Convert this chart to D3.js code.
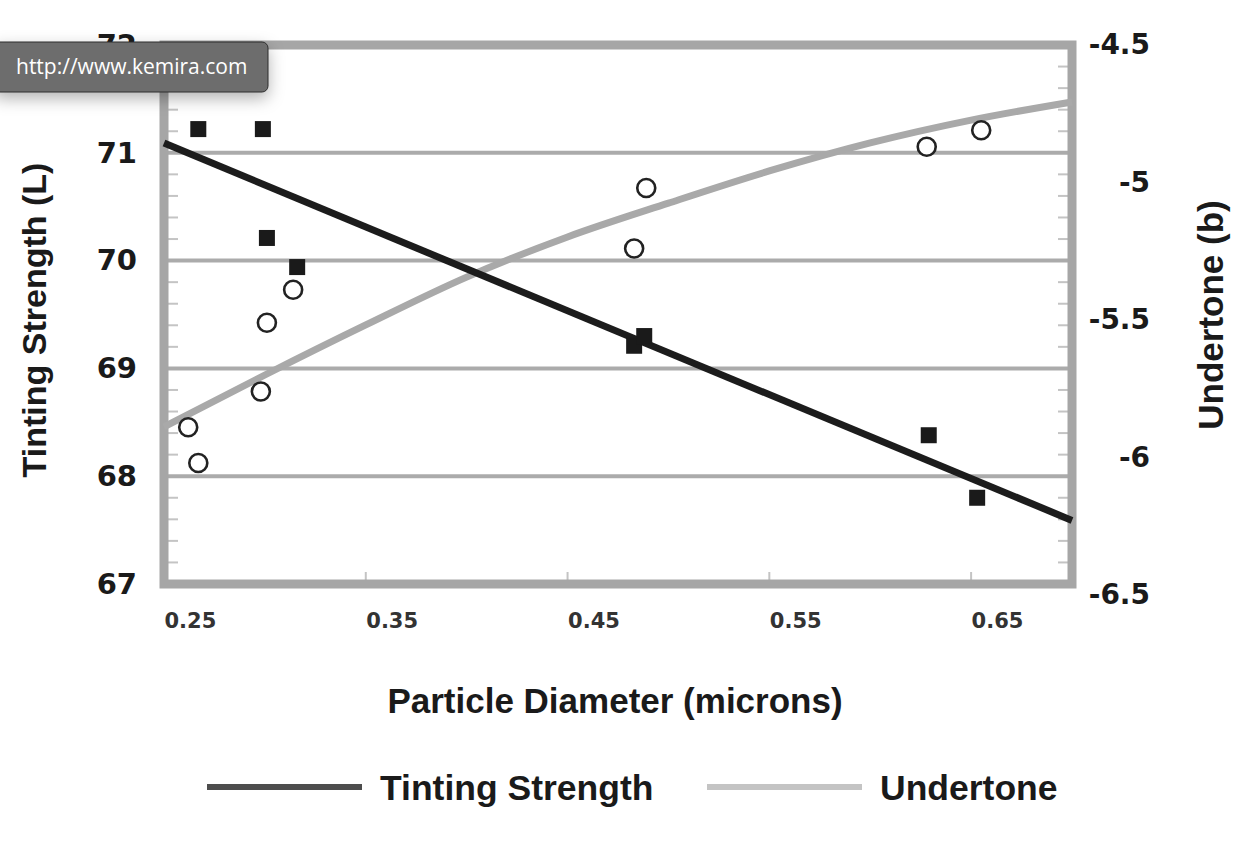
<!DOCTYPE html>
<html>
<head>
<meta charset="utf-8">
<script src="https://cdn.jsdelivr.net/npm/d3@7"></script>
<style>
  body { margin: 0; background: #fff; }
  svg { display: block; }
</style>
</head>
<body>
<div id="chart"></div>
<script>
// measured points (black squares = tinting strength, open circles = undertone)
const tintX = [0.267, 0.299, 0.301, 0.316, 0.483, 0.488, 0.629, 0.653];
const tintY = [71.22, 71.22, 70.21, 69.94, 69.21, 69.30, 68.38, 67.80];
const underX = [0.262, 0.267, 0.298, 0.301, 0.314, 0.483, 0.489, 0.628, 0.655];
const underY = [-5.89, -6.02, -5.76, -5.51, -5.39, -5.24, -5.02, -4.87, -4.81];

// fitted trend lines
const tintFitX = [0.25, 0.70];
const tintFitY = [71.09, 67.59];
const underFitX = [0.25, 0.30, 0.35, 0.40, 0.45, 0.50, 0.55, 0.60, 0.65, 0.70];
const underFitY = [-5.889, -5.700, -5.518, -5.344, -5.198, -5.075, -4.958, -4.856, -4.773, -4.707];

// ticks
const xTicks = [0.25, 0.35, 0.45, 0.55, 0.65];
const xMinor = [0.35, 0.45, 0.55, 0.65];
const leftTicks = [67, 68, 69, 70, 71, 72];
const gridTicks = [68, 69, 70, 71];
const rightTicks = [-6.5, -6, -5.5, -5, -4.5];

const W = 1258, H = 848;
const plotL = 164, plotR = 1072, plotT = 45, plotB = 584;
const numFont = "'DejaVu Sans', sans-serif";
const titleFont = "'Liberation Sans', Arial, sans-serif";

const svg = d3.select("#chart").append("svg")
    .attr("width", W)
    .attr("height", H);

const x = d3.scaleLinear().domain([0.25, 0.70]).range([plotL, plotR]);
const yL = d3.scaleLinear().domain([67, 72]).range([plotB, plotT]);
const yR = d3.scaleLinear().domain([-6.5, -4.5]).range([595, 45]);

// minor ticks every 0.2 on the left scale
const minorY = d3.range(67.2, 72, 0.2).filter(v => Math.abs(v - Math.round(v)) > 0.01);

// gridlines
svg.append("g").selectAll("line")
    .data(gridTicks)
    .enter().append("line")
    .attr("x1", plotL).attr("x2", plotR)
    .attr("y1", d => yL(d)).attr("y2", d => yL(d))
    .attr("stroke", "#ababab")
    .attr("stroke-width", 4);

// minor ticks inside the frame
const minorG = svg.append("g").attr("stroke", "#c4c4c4").attr("stroke-width", 2);
minorY.forEach(v => {
    minorG.append("line").attr("x1", plotL).attr("x2", plotL + 14)
        .attr("y1", yL(v)).attr("y2", yL(v));
    minorG.append("line").attr("x1", plotR - 14).attr("x2", plotR)
        .attr("y1", yL(v)).attr("y2", yL(v));
});
minorG.selectAll(".xm")
    .data(xMinor)
    .enter().append("line")
    .attr("x1", d => x(d)).attr("x2", d => x(d))
    .attr("y1", plotB - 12).attr("y2", plotB);

// frame
svg.append("rect")
    .attr("x", plotL).attr("y", plotT)
    .attr("width", plotR - plotL).attr("height", plotB - plotT)
    .attr("fill", "none")
    .attr("stroke", "#a6a6a6")
    .attr("stroke-width", 9);

// axes labels
const axL = svg.append("g")
    .attr("transform", "translate(140,0)")
    .call(d3.axisLeft(yL).tickValues(leftTicks).tickSize(0).tickPadding(3).tickFormat(d => String(d)));
axL.select(".domain").remove();
axL.selectAll("text")
    .attr("font-family", numFont).attr("font-size", 29).attr("font-weight", "bold").attr("fill", "#1a1a1a");

const axR = svg.append("g")
    .attr("transform", "translate(1153,0)")
    .call(d3.axisLeft(yR).tickValues(rightTicks).tickSize(0).tickPadding(3).tickFormat(d => String(d)));
axR.select(".domain").remove();
axR.selectAll("text")
    .attr("font-family", numFont).attr("font-size", 28).attr("font-weight", "bold").attr("fill", "#1a1a1a");

const axB = svg.append("g")
    .attr("transform", "translate(0," + plotB + ")")
    .call(d3.axisBottom(x).tickValues(xTicks).tickSize(0).tickPadding(29).tickFormat(d3.format(".2f")));
axB.select(".domain").remove();
axB.selectAll("text")
    .attr("text-anchor", "start")
    .attr("font-family", numFont).attr("font-size", 21).attr("font-weight", "bold").attr("fill", "#333");

// trend lines
const undLine = d3.line().x(d => x(d[0])).y(d => yR(d[1])).curve(d3.curveMonotoneX);
svg.append("path")
    .datum(d3.zip(underFitX, underFitY))
    .attr("d", undLine)
    .attr("fill", "none")
    .attr("stroke", "#a9a9a9")
    .attr("stroke-width", 7);

const tintLine = d3.line().x(d => x(d[0])).y(d => yL(d[1]));
svg.append("path")
    .datum(d3.zip(tintFitX, tintFitY))
    .attr("d", tintLine)
    .attr("fill", "none")
    .attr("stroke", "#1c1c1c")
    .attr("stroke-width", 7);

// markers
const sq = 16;
svg.append("g").selectAll("rect")
    .data(d3.zip(tintX, tintY))
    .enter().append("rect")
    .attr("x", d => x(d[0]) - sq / 2)
    .attr("y", d => yL(d[1]) - sq / 2)
    .attr("width", sq).attr("height", sq)
    .attr("fill", "#1a1a1a");

svg.append("g").selectAll("circle")
    .data(d3.zip(underX, underY))
    .enter().append("circle")
    .attr("cx", d => x(d[0]))
    .attr("cy", d => yR(d[1]))
    .attr("r", 9)
    .attr("fill", "#fff")
    .attr("stroke", "#222")
    .attr("stroke-width", 2.6);

// titles
svg.append("text")
    .attr("x", 615).attr("y", 713)
    .attr("text-anchor", "middle")
    .attr("font-family", titleFont).attr("font-size", 35).attr("font-weight", "bold")
    .attr("fill", "#1a1a1a")
    .text("Particle Diameter (microns)");

svg.append("text")
    .attr("transform", "translate(46,320) rotate(-90)")
    .attr("text-anchor", "middle")
    .attr("font-family", titleFont).attr("font-size", 34).attr("font-weight", "bold")
    .attr("fill", "#1a1a1a")
    .text("Tinting Strength (L)");

svg.append("text")
    .attr("transform", "translate(1223,315) rotate(-90)")
    .attr("text-anchor", "middle")
    .attr("font-family", titleFont).attr("font-size", 35).attr("font-weight", "bold")
    .attr("fill", "#1a1a1a")
    .text("Undertone (b)");

// legend
const legend = [
    { name: "Tinting Strength", color: "#4d4d4d", x: 207 },
    { name: "Undertone", color: "#c4c4c4", x: 707 }
];
const lg = svg.append("g").selectAll("g")
    .data(legend)
    .enter().append("g")
    .attr("transform", d => "translate(" + d.x + ",787)");
lg.append("line")
    .attr("x1", 0).attr("x2", 155)
    .attr("stroke", d => d.color)
    .attr("stroke-width", 6);
lg.append("text")
    .attr("x", 173).attr("y", 13)
    .attr("font-family", titleFont).attr("font-size", 35.5).attr("font-weight", "bold")
    .attr("fill", "#1a1a1a")
    .text(d => d.name);

// browser tooltip that sits over the top-left corner
const defs = svg.append("defs");
const f = defs.append("filter").attr("id", "shadow")
    .attr("x", "-20%").attr("y", "-40%").attr("width", "140%").attr("height", "200%");
f.append("feDropShadow")
    .attr("dx", 0).attr("dy", 6).attr("stdDeviation", 8)
    .attr("flood-color", "#000").attr("flood-opacity", 0.3);

const tip = svg.append("g");
tip.append("rect")
    .attr("x", -6).attr("y", 42)
    .attr("width", 274).attr("height", 50)
    .attr("rx", 6)
    .attr("fill", "#6d6d6d")
    .attr("stroke", "#2e2e2e")
    .attr("stroke-width", 1)
    .attr("filter", "url(#shadow)");
tip.append("text")
    .attr("x", 16).attr("y", 74)
    .attr("font-family", "'Open Sans', sans-serif").attr("font-size", 21)
    .attr("fill", "#fff")
    .text("http://www.kemira.com");
</script>
</body>
</html>
